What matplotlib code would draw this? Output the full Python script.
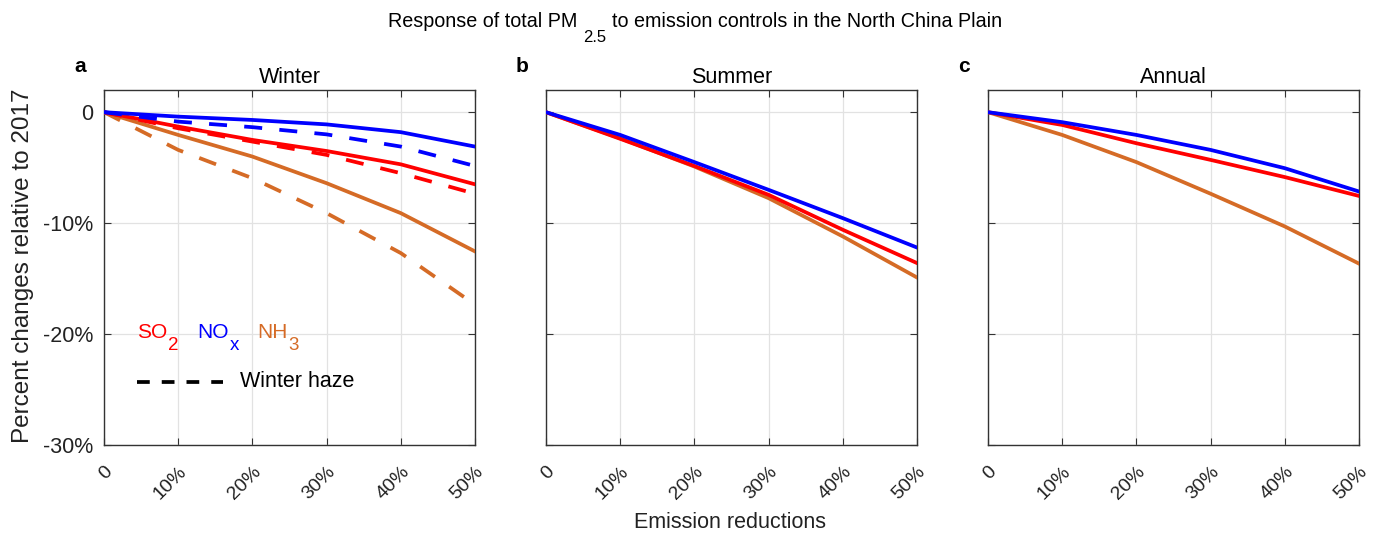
import numpy as np
import matplotlib.pyplot as plt
from matplotlib.transforms import ScaledTranslation

plt.rcParams['font.family'] = ['Liberation Sans', 'DejaVu Sans']

# emission reduction levels (%)
cuts = [0, 10, 20, 30, 40, 50]
tick_labels = ['0', '10%', '20%', '30%', '40%', '50%']

# Winter
win_so2 = [0, -1.3, -2.5, -3.5, -4.7, -6.5]
win_nox = [0, -0.4, -0.7, -1.1, -1.8, -3.1]
win_nh3 = [0, -2.05, -4.0, -6.4, -9.1, -12.55]
# Winter haze (dashed)
haze_so2 = [0, -1.45, -2.65, -3.85, -5.5, -7.35]
haze_nox = [0, -0.85, -1.35, -2.0, -3.1, -4.85]
haze_nh3 = [0, -3.4, -5.95, -9.1, -12.7, -17.35]
# Summer
sum_so2 = [0, -2.4, -4.85, -7.45, -10.6, -13.6]
sum_nox = [0, -2.05, -4.5, -7.0, -9.55, -12.2]
sum_nh3 = [0, -2.35, -4.9, -7.75, -11.2, -14.9]
# Annual
ann_so2 = [0, -1.15, -2.8, -4.3, -5.85, -7.55]
ann_nox = [0, -0.9, -2.05, -3.4, -5.05, -7.15]
ann_nh3 = [0, -2.05, -4.5, -7.35, -10.3, -13.65]

c_so2 = '#FF0000'
c_nox = '#0000FF'
c_nh3 = '#D56B26'
lw = 2.7
dash = (0, (4.8, 4.6))

W, H = 1389, 534
fig = plt.figure(figsize=(W / 100, H / 100), dpi=100)
lefts = [104, 546, 988]
axes = [fig.add_axes([l / W, 1 - 445 / H, 371 / W, 355 / H]) for l in lefts]

panels = [
    ('a', 'Winter', win_so2, win_nox, win_nh3),
    ('b', 'Summer', sum_so2, sum_nox, sum_nh3),
    ('c', 'Annual', ann_so2, ann_nox, ann_nh3),
]

shift = ScaledTranslation(5 / 100, 0, fig.dpi_scale_trans)
for ax, (letter, title, so2, nox, nh3) in zip(axes, panels):
    ax.plot(cuts, nh3, color=c_nh3, lw=lw, zorder=3)
    ax.plot(cuts, so2, color=c_so2, lw=lw, zorder=4)
    ax.plot(cuts, nox, color=c_nox, lw=lw, zorder=5)
    ax.set_xlim(0, 50)
    ax.set_ylim(-30, 2)
    ax.set_xticks(cuts)
    ax.set_xticklabels(tick_labels, rotation=45, ha='right', va='top',
                       rotation_mode='anchor', fontsize=14, color='#222222')
    for lab in ax.get_xticklabels():
        lab.set_transform(lab.get_transform() + shift)
    ax.set_yticks([-30, -20, -10, 0])
    ax.grid(True, color='#e2e2e2', lw=0.9)
    ax.set_axisbelow(True)
    ax.tick_params(direction='in', length=5, top=True, right=True,
                   color='#333333')
    ax.tick_params(axis='x', pad=13)
    ax.tick_params(axis='y', pad=8)
    for s in ax.spines.values():
        s.set_color('#333333')
        s.set_linewidth(1.0)
    ax.set_title(title, fontsize=15.5, pad=5)
    ax.text(-0.065, 1.05, letter, transform=ax.transAxes, fontsize=15,
            fontweight='bold', ha='center', va='baseline')
    if letter == 'a':
        ax.set_yticklabels(['-30%', '-20%', '-10%', '0'], fontsize=15.5,
                           color='#222222')
    else:
        ax.set_yticklabels([])

# winter haze dashed lines
ax = axes[0]
ax.plot(cuts, haze_nh3, color=c_nh3, lw=lw, ls=dash, zorder=3)
ax.plot(cuts, haze_so2, color=c_so2, lw=lw, ls=dash, zorder=4)
ax.plot(cuts, haze_nox, color=c_nox, lw=lw, ls=dash, zorder=5)


def rich_text(x0, ybase, parts, ha='left'):
    # parts: (text, size, drop_px, gap_px, color); pixel coords from top-left
    r = fig.canvas.get_renderer()
    objs = []
    x = 0
    for s, size, drop, gap, color in parts:
        x += gap
        t = fig.text(0, 0, s, fontsize=size, color=color, ha='left',
                     va='baseline')
        objs.append((t, x, drop))
        x += t.get_window_extent(r).width
    if ha == 'center':
        x0 -= x / 2
    for t, xo, drop in objs:
        t.set_position(((x0 + xo) / W, 1 - (ybase + drop) / H))


# hand-made legend
rich_text(137, 338, [('SO', 15, 0, 0, c_so2), ('2', 13.5, 12, 1, c_so2)])
rich_text(197, 338, [('NO', 15, 0, 0, c_nox), ('x', 13.5, 12, 1, c_nox)])
rich_text(257, 338, [('NH', 15, 0, 0, c_nh3), ('3', 13.5, 12, 1, c_nh3)])
ax.plot([4.45, 16.0], [-24.3, -24.3], color='black', lw=lw,
        ls=(0, (3.4, 3.2)))
ax.text(18.3, -24.3, 'Winter haze', color='black', fontsize=15.5,
        va='center')

# title with lowered subscript
rich_text(695, 27, [('Response of total PM', 14.2, 0, 0, 'black'),
                    ('2.5', 12, 15, 6, 'black'),
                    ('to emission controls in the North China Plain', 14.2, 0, 5, 'black')],
          ha='center')

fig.text(730 / W, 1 - 528 / H, 'Emission reductions', ha='center',
         va='baseline', fontsize=15.5, color='#222222')
fig.text(23 / W, 1 - 266 / H, 'Percent changes relative to 2017',
         rotation=90, ha='center', va='center', fontsize=17.5,
         color='#222222')

fig.savefig('out.png', dpi=100)
